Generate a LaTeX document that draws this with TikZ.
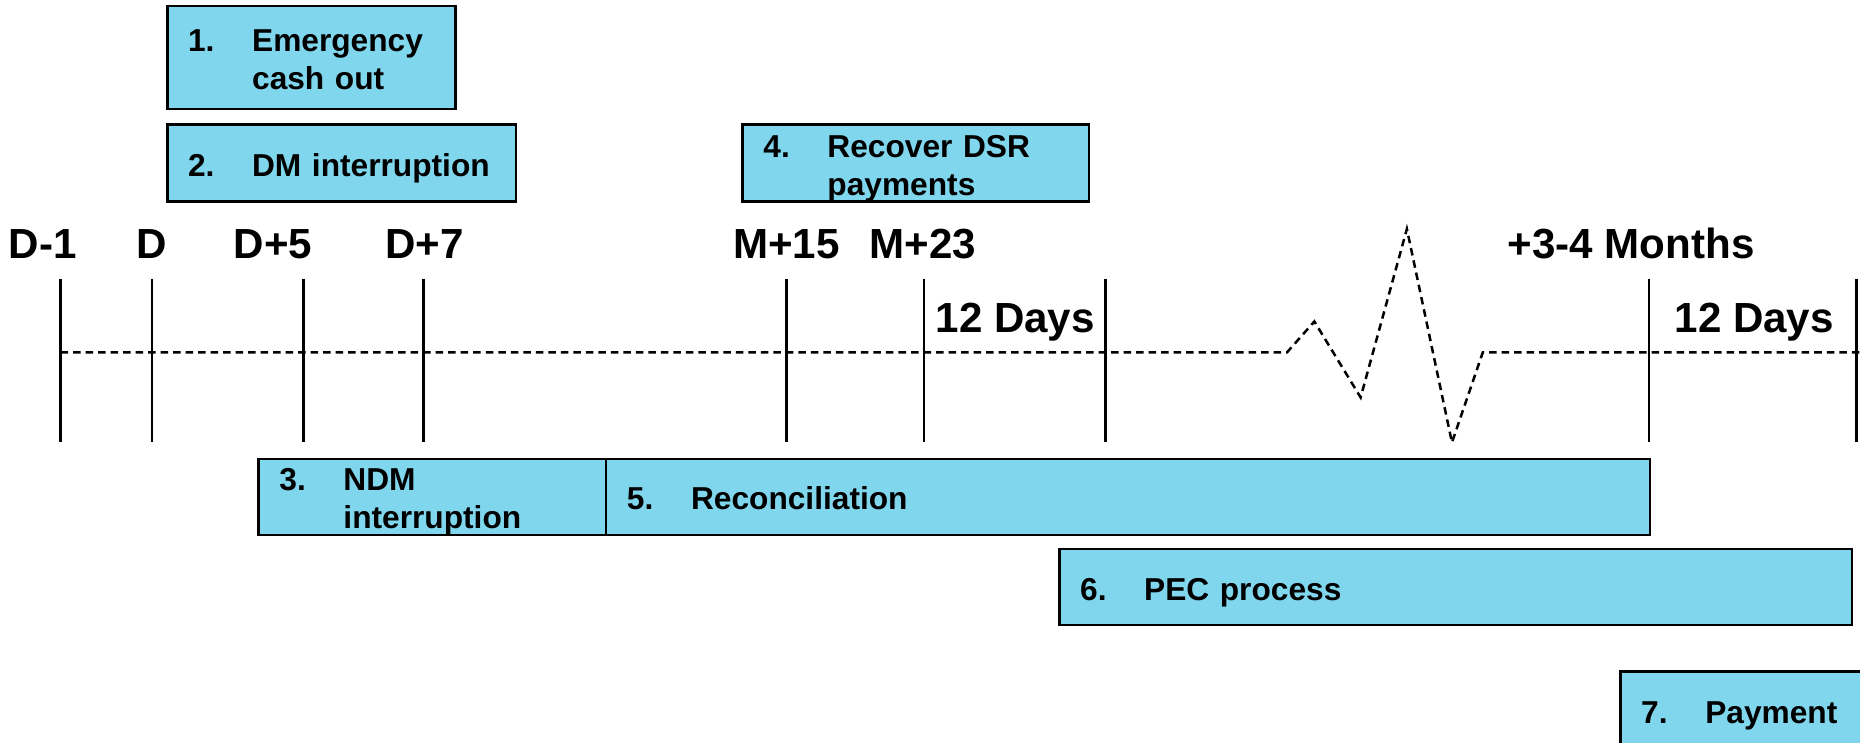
\documentclass[tikz,border=0pt]{standalone}
\usepackage{fontspec}
\setmainfont{Liberation Sans}
\usepackage{tikz}
\usetikzlibrary{positioning}
\usepackage{color}

\definecolor{boxcyan}{RGB}{128,214,236}

% number column plus (possibly two-line) task text, set a little low in its box
\newcommand{\task}[2]{\raisebox{-0.045cm}[\height][\depth]{\makebox[0.54cm][l]{#1}\begin{tabular}[t]{@{}l@{}}#2\end{tabular}}}

\tikzset{
	taskbox/.style={draw, line width=0.6pt, fill=boxcyan, rectangle, anchor=west,
		inner xsep=0.175cm, inner ysep=0pt, align=left,
		font=\fontsize{7.6}{9.1}\selectfont\bfseries},
	daylabel/.style={anchor=base, inner sep=0pt, font=\fontsize{10.1}{12}\selectfont\bfseries},
	timeline/.style={line width=0.6pt, dash pattern=on 1.8pt off 1.2pt},
}

\begin{document}
\begin{tikzpicture}
		\useasboundingbox (0,0) rectangle (15.68,-6.26);
		% tasks above the time line
		\node[taskbox, minimum width=2.43cm, text width=2.08cm, minimum height=0.87cm] (cash) at (1.40,-0.485) {\task{1.}{Emergency\\cash out}};
		\node[taskbox, minimum width=2.94cm, text width=2.59cm, minimum height=0.65cm] (dm) at (1.40,-1.375) {\task{2.}{DM interruption}};
		\node[taskbox, minimum width=2.92cm, text width=2.57cm, minimum height=0.65cm] (dsr) at (6.25,-1.375) {\task{4.}{Recover DSR\\payments}};
		% dates
		\node[daylabel] (dmin) at (0.36,-2.18) {D-1};
		\node[daylabel] (d) at (1.28,-2.18) {D};
		\node[daylabel] (dfive) at (2.30,-2.18) {D+5};
		\node[daylabel] (dseven) at (3.58,-2.18) {D+7};
		\node[daylabel] (mfifteen) at (6.63,-2.18) {M+15};
		\node[daylabel] (mtwenty) at (7.78,-2.18) {M+23};
		\node[daylabel] (months) at (13.75,-2.18) {+3-4 Months};
		\node[daylabel, anchor=base west] (days) at (7.88,-2.80) {12 Days};
		\node[daylabel, anchor=base west] (daystoo) at (14.11,-2.80) {12 Days};
		% ticks
		\foreach \x in {0.51,1.28,2.56,3.57,6.63,7.79,9.32,13.90,15.65}
			\draw[line width=0.6pt] (\x,-2.35) -- (\x,-3.73);
		% time line with the break
		\draw[timeline] (0.51,-2.97) -- (10.85,-2.97) -- (11.08,-2.71) -- (11.47,-3.35)
			-- (11.86,-1.93) -- (12.24,-3.73) -- (12.50,-2.97) -- (15.80,-2.97);
		% tasks below the time line
		\node[taskbox, minimum width=2.93cm, text width=2.58cm, minimum height=0.64cm] (ndm) at (2.17,-4.19) {\task{3.}{NDM\\interruption}};
		\node[taskbox, minimum width=8.80cm, text width=8.45cm, minimum height=0.64cm] (recon) at (5.10,-4.19) {\task{5.}{Reconciliation}};
		\node[taskbox, minimum width=6.68cm, text width=6.33cm, minimum height=0.64cm] (pec) at (8.92,-4.95) {\task{6.}{PEC process}};
		\node[taskbox, minimum width=2.20cm, text width=1.85cm, minimum height=0.66cm] (pay) at (13.65,-5.99) {\task{7.}{Payment}};
	\end{tikzpicture}
\end{document}
